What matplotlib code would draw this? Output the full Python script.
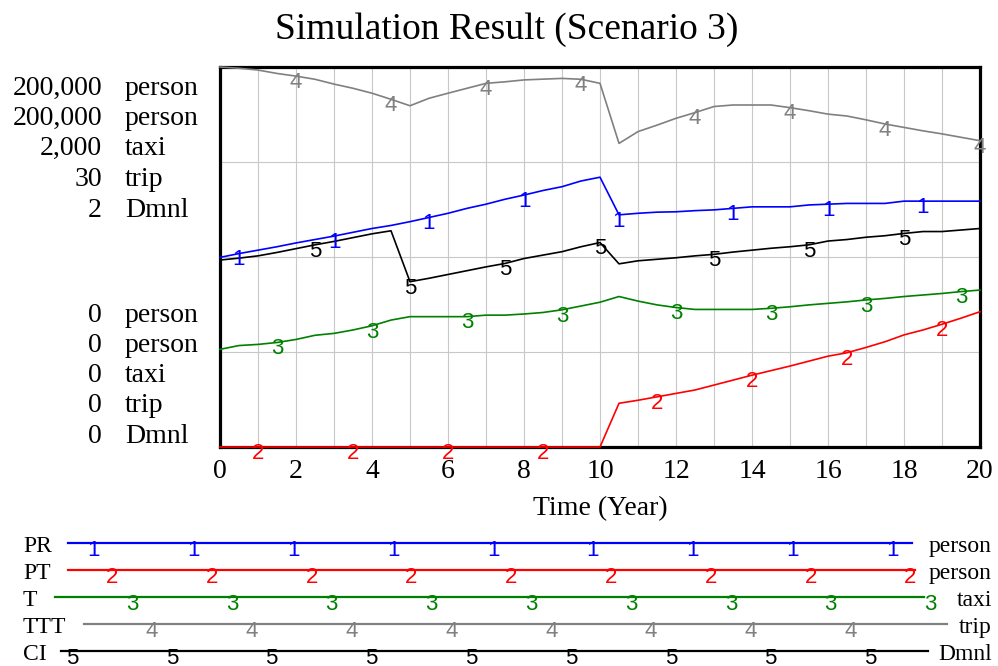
import numpy as np
import matplotlib
matplotlib.use("Agg")
import matplotlib.pyplot as plt
from matplotlib import font_manager

SERIF = "Liberation Serif"
_names = {f.name for f in font_manager.fontManager.ttflist}
SANS = ["Liberation Sans Narrow", "Liberation Sans"] if "Liberation Sans Narrow" in _names else ["Liberation Sans"]

title = "Simulation Result (Scenario 3)"
time = np.arange(0, 20.5, 0.5)

PR = [99800, 101800, 103600, 105400, 107400, 109200, 111000, 113000, 115000, 116600, 118600,
      120800, 123000, 125600, 127800, 130400, 132600, 135000, 137000, 140000, 142000,
      122200, 123000, 123600, 123800, 124400, 124800, 125600, 126400, 126400, 126400,
      127400, 127800, 128200, 128200, 128200, 129400, 129400, 129400, 129400, 129400]
PT = [0] * 21 + [23000, 24600, 26400, 28200, 30000, 32600, 35200, 37800, 40200, 42600,
                 45200, 47800, 49600, 52400, 55400, 59000, 61600, 64600, 67800, 71200]
T = [514, 534, 540, 550, 566, 588, 598, 616, 638, 668, 686,
     686, 686, 686, 694, 694, 700, 708, 722, 742, 762,
     792, 768, 748, 734, 724, 724, 724, 724, 730, 738,
     748, 756, 764, 774, 782, 792, 800, 808, 818, 826]
TTT = [30.0, 29.9, 29.76, 29.49, 29.28, 29.03, 28.65, 28.32, 27.93, 27.45, 26.94,
       27.53, 27.93, 28.32, 28.71, 28.83, 28.98, 29.04, 29.10, 29.03, 28.71,
       23.97, 24.9, 25.41, 25.95, 26.4, 26.88, 27.0, 27.0, 27.0, 26.79,
       26.55, 26.28, 26.13, 25.83, 25.5, 25.23, 24.96, 24.72, 24.45, 24.18]
CI = [0.984, 0.994, 1.006, 1.024, 1.044, 1.064, 1.082, 1.102, 1.122, 1.138, 0.870,
      0.888, 0.908, 0.928, 0.948, 0.966, 0.992, 1.010, 1.028, 1.054, 1.076,
      0.964, 0.980, 0.988, 0.996, 1.006, 1.014, 1.026, 1.036, 1.046, 1.054,
      1.064, 1.084, 1.092, 1.104, 1.112, 1.124, 1.134, 1.134, 1.142, 1.150]

names = ["PR", "PT", "T", "TTT", "CI"]
units = ["person", "person", "taxi", "trip", "Dmnl"]
scale_max = [200000, 200000, 2000, 30, 2]
scale_max_labels = ["200,000", "200,000", "2,000", "30", "2"]
scale_min_labels = ["0", "0", "0", "0", "0"]
series = [PR, PT, T, TTT, CI]
colors = ["#0000ff", "#ff0000", "#008000", "#808080", "#000000"]
marker_times = [
    [0.5, 3, 5.5, 8, 10.5, 13.5, 16, 18.5],
    [1, 3.5, 6, 8.5, 11.5, 14, 16.5, 19],
    [1.5, 4, 6.5, 9, 12, 14.5, 17, 19.5],
    [2, 4.5, 7, 9.5, 12.5, 15, 17.5, 20],
    [2.5, 5, 7.5, 10, 13, 15.5, 18],
]
xticks = list(range(0, 21, 2))
xlabel = "Time (Year)"

W, H = 998, 666
fig = plt.figure(figsize=(W / 100, H / 100), dpi=100)

# main plot
ax = fig.add_axes([220 / W, 1 - 447 / H, 760 / W, 380 / H])
ax.set_xlim(0, 20)
ax.set_ylim(0, 1)
ax.set_xticks(range(0, 21), minor=True)
ax.set_xticks(xticks)
ax.set_xticklabels([str(v) for v in xticks], fontsize=20, family=SERIF)
ax.set_yticks([0.25, 0.5, 0.75])
ax.set_yticklabels([])
ax.tick_params(axis="both", which="both", length=0)
ax.tick_params(axis="x", pad=9)
ax.grid(True, which="both", axis="x", color="#c8c8c8", lw=0.8)
ax.grid(True, which="major", axis="y", color="#c8c8c8", lw=0.8)
ax.set_axisbelow(True)
for s in ax.spines.values():
    s.set_linewidth(2.3)
    s.set_color("black")
    s.set_zorder(1)

for i, (vals, mx, col, mt) in enumerate(zip(series, scale_max, colors, marker_times)):
    f = np.array(vals, dtype=float) / mx
    ax.plot(time, f, color=col, lw=1.2, zorder=3 + i * 0.1, clip_on=False)
    for t in mt:
        idx = int(round(t * 2))
        ax.annotate(str(i + 1), (time[idx], f[idx]), xytext=(0, 3), textcoords="offset points",
                    ha="center", va="top", fontsize=16, family=SANS, color=col,
                    annotation_clip=False, zorder=4)

fig.text(600 / W, 1 - 515 / H, xlabel, ha="center", va="baseline", fontsize=20, family=SERIF)
fig.text(507 / W, 1 - 39 / H, title, ha="center", va="baseline", fontsize=27, family=SERIF)

# left scale labels
top_base = [95, 125, 155, 186, 217]
bot_base = [322, 352, 382, 412, 443]
for k in range(5):
    for yb, lab in ((top_base[k], scale_max_labels[k]), (bot_base[k], scale_min_labels[k])):
        fig.text(102 / W, 1 - yb / H, lab, ha="right", va="baseline", fontsize=20, family=SERIF)
        fig.text(125 / W, 1 - yb / H, units[k], ha="left", va="baseline", fontsize=20, family=SERIF)

# bottom legend
lg = fig.add_axes([0, 0, 1, 1], zorder=-1)
lg.set_xlim(0, W)
lg.set_ylim(H, 0)
lg.axis("off")
row_y = [543, 570, 597, 624, 651]
label_base = [552, 579, 606, 633, 660]
line_x0 = [68, 68, 55, 84, 61]
line_x1 = [912, 915, 924, 947, 928]
mark_x0 = [94, 112, 132, 152, 72]
mark_n = [9, 9, 9, 8, 9]
for k in range(5):
    lg.plot([line_x0[k], line_x1[k]], [row_y[k], row_y[k]], color=colors[k], lw=1.6)
    lg.text(23, label_base[k], names[k], ha="left", va="baseline", fontsize=17, family=SERIF)
    lg.text(992, label_base[k], units[k], ha="right", va="baseline", fontsize=17, family=SERIF)
    for j in range(mark_n[k]):
        lg.text(mark_x0[k] + 99.8 * j, row_y[k] - 3, str(k + 1), ha="center", va="top",
                fontsize=16, family=SANS, color=colors[k])

fig.savefig("out.png", dpi=100)
